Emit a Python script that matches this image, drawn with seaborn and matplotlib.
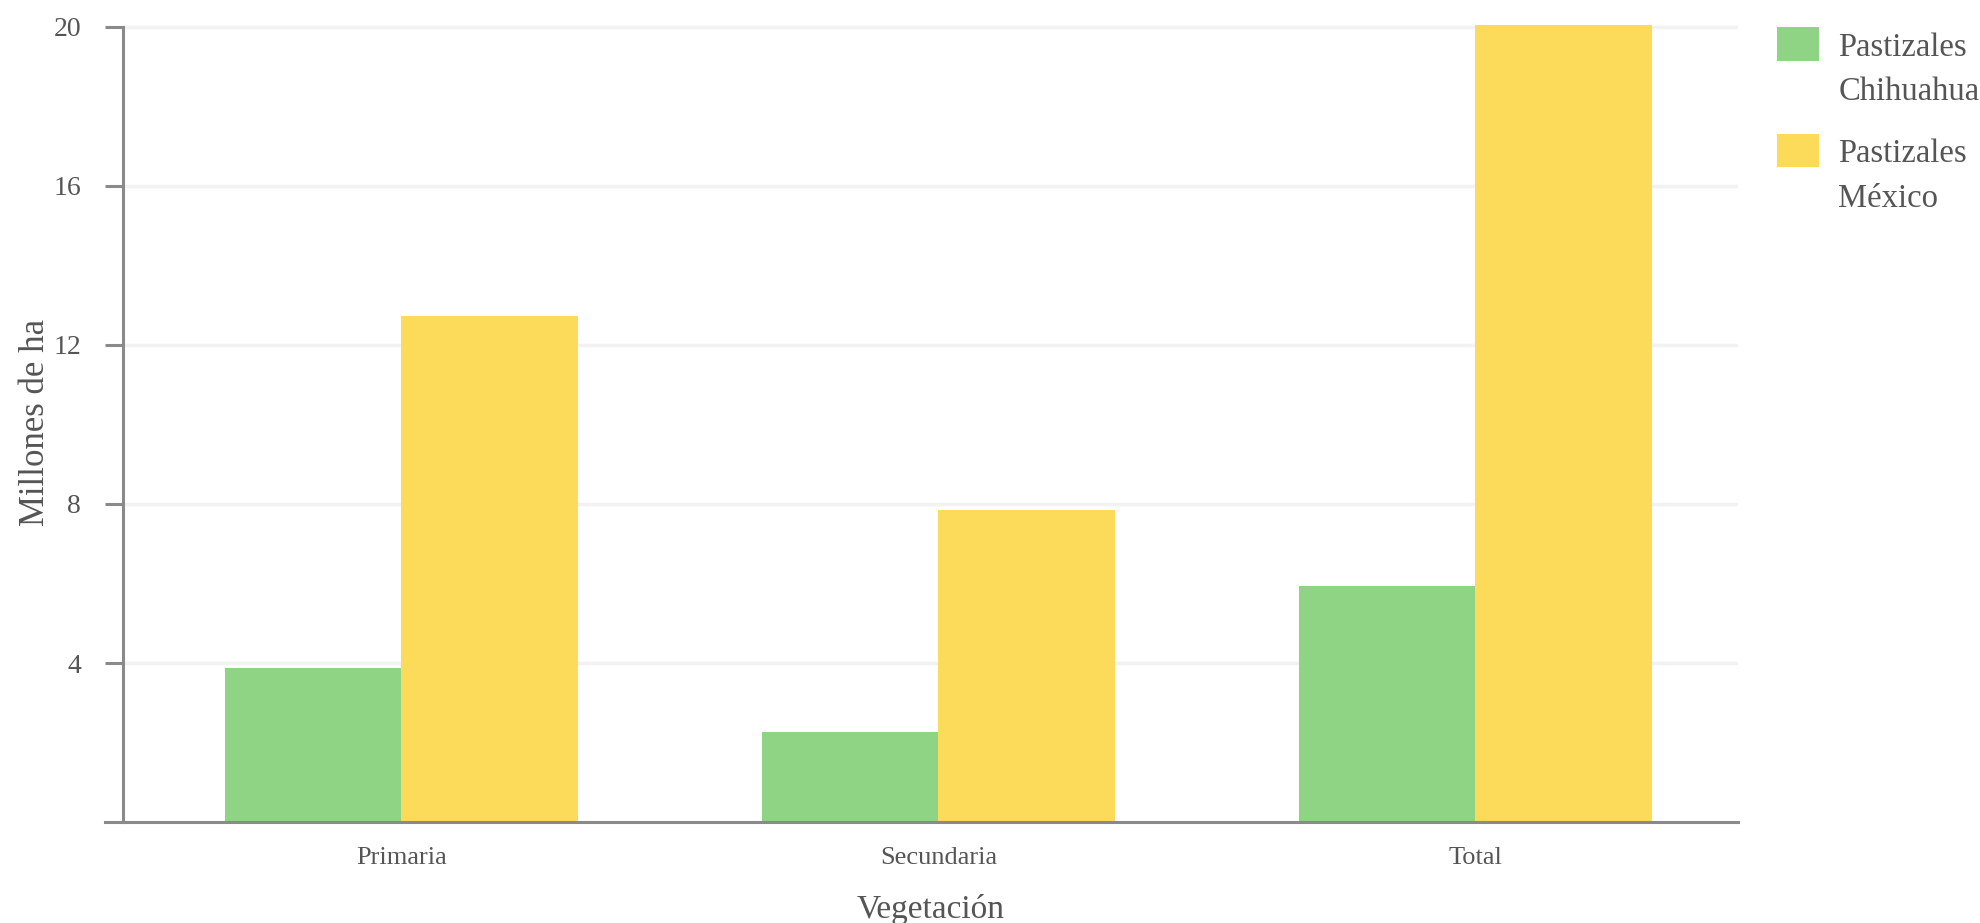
import pandas as pd
import seaborn as sns
import matplotlib.pyplot as plt

categories = ["Primaria", "Secundaria", "Total"]
series = ["Pastizales\nChihuahua", "Pastizales\nMéxico"]
chihuahua = [3.87, 2.26, 5.94]
mexico = [12.73, 7.85, 20.05]
y_ticks = [4, 8, 12, 16, 20]
colors = ["#8fd485", "#fcdb5b"]

df = pd.DataFrame({
    "Vegetación": categories * 2,
    "valor": chihuahua + mexico,
    "serie": [series[0]] * 3 + [series[1]] * 3,
})

sns.set_style("white")
plt.rcParams["font.family"] = ["Liberation Serif", "DejaVu Serif"]
text_color = "#555555"
axis_color = "#8a8a8a"

fig = plt.figure(figsize=(19.8, 9.23), dpi=100)
ax = fig.add_axes([0.062, 0.1094, 0.816, 0.8657])

sns.barplot(data=df, x="Vegetación", y="valor", hue="serie", palette=colors,
            width=0.658, saturation=1, linewidth=0, ax=ax)

ax.set_xlim(-0.519, 2.49)
ax.set_ylim(0, 20.1)
ax.set_yticks(y_ticks)
ax.yaxis.grid(True, color="#f2f2f2", linewidth=2.5)
ax.set_axisbelow(True)

for side in ["top", "right"]:
    ax.spines[side].set_visible(False)
for side in ["left", "bottom"]:
    ax.spines[side].set_color(axis_color)
    ax.spines[side].set_linewidth(2.2)
ax.spines["left"].set_bounds(0, 20)
ax.spines["bottom"].set_bounds(-0.553, 2.49)

ax.tick_params(axis="y", left=True, length=13, width=2.2, color=axis_color, pad=17,
               labelsize=20, labelcolor=text_color)
ax.tick_params(axis="x", bottom=False, length=0, pad=18, labelsize=19,
               labelcolor=text_color)

ax.set_xlabel("Vegetación", fontsize=24, color=text_color, labelpad=18)
ax.set_ylabel("Millones de ha", fontsize=25, color=text_color, labelpad=1)

handles, labels = ax.get_legend_handles_labels()
ax.get_legend().remove()
leg = fig.legend(handles, labels, loc="upper left", bbox_to_anchor=(0.8975, 0.965),
                 frameon=False, fontsize=23.5, handlelength=1.28, handleheight=1.2,
                 handletextpad=0.6, labelspacing=0.95, borderpad=0, borderaxespad=0)
for t in leg.get_texts():
    t.set_color(text_color)
    t.set_linespacing(1.6)
# align each swatch with the first line of its label
for h in leg.legend_handles:
    h.set_y(h.get_y() + 19)
    h.set_linewidth(0)

plt.savefig("out.png", dpi=100)
plt.close()
